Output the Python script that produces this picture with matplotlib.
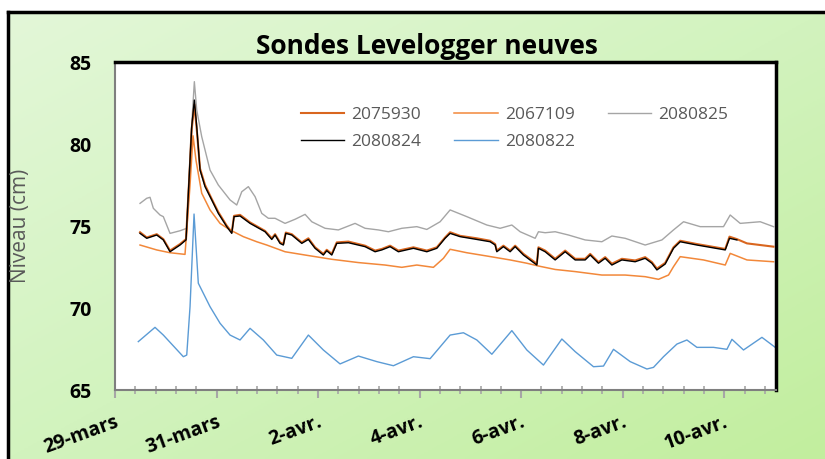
import numpy as np
import matplotlib.pyplot as plt
from matplotlib.colors import LinearSegmentedColormap

plt.rcParams['font.family'] = ['Open Sans', 'DejaVu Sans']

# days since 29-mars 00:00
black_days = [0.493, 0.625, 0.822, 0.952, 1.084, 1.281, 1.399, 1.478, 1.511, 1.563, 1.610, 1.675,
              1.773, 1.905, 2.035, 2.201, 2.300, 2.345, 2.463, 2.660, 2.956, 3.088, 3.153, 3.251,
              3.316, 3.364, 3.482, 3.679, 3.809, 3.941, 4.104, 4.171, 4.270, 4.368, 4.597, 4.926,
              5.123, 5.255, 5.419, 5.582, 5.878, 6.142, 6.339, 6.502, 6.601, 6.798, 7.127, 7.389,
              7.488, 7.521, 7.651, 7.783, 7.882, 8.045, 8.309, 8.341, 8.473, 8.670, 8.867, 9.064,
              9.261, 9.360, 9.523, 9.655, 9.787, 9.984, 10.246, 10.443, 10.575, 10.674, 10.837,
              11.001, 11.133, 11.462, 12.020, 12.104, 12.250]
s2080824 = [74.55, 74.25, 74.45, 74.15, 73.43, 73.84, 74.15, 79.02, 81.06, 82.68, 81.06, 78.41,
            77.40, 76.59, 75.77, 74.96, 74.55, 75.57, 75.61, 75.16, 74.65, 74.18, 74.45, 73.94,
            73.84, 74.55, 74.45, 73.94, 74.18, 73.64, 73.23, 73.49, 73.23, 73.94, 73.98, 73.74,
            73.43, 73.54, 73.74, 73.43, 73.64, 73.43, 73.64, 74.25, 74.55, 74.35, 74.18, 74.04,
            73.84, 73.43, 73.74, 73.43, 73.74, 73.23, 72.62, 73.64, 73.43, 72.93, 73.43, 72.93,
            72.93, 73.23, 72.73, 73.03, 72.62, 72.93, 72.82, 73.03, 72.73, 72.32, 72.68,
            73.64, 74.04, 73.84, 73.54, 74.25, 74.15]

dark_days = black_days + [12.448, 12.709, 12.971]
s2075930 = [74.62, 74.30, 74.50, 74.20, 73.50, 73.90, 74.20, 78.80, 80.90, 82.40, 80.90, 78.50,
            77.50, 76.65, 75.85, 75.02, 74.62, 75.62, 75.68, 75.22, 74.70, 74.25, 74.50, 74.00,
            73.90, 74.60, 74.50, 74.00, 74.25, 73.70, 73.30, 73.55, 73.30, 74.00, 74.05, 73.80,
            73.50, 73.60, 73.80, 73.50, 73.70, 73.50, 73.70, 74.30, 74.62, 74.40, 74.25, 74.10,
            73.90, 73.50, 73.80, 73.50, 73.80, 73.30, 72.70, 73.70, 73.50, 73.00, 73.50, 73.00,
            73.00, 73.30, 72.80, 73.10, 72.70, 73.00, 72.90, 73.10, 72.80, 72.40, 72.75,
            73.70, 74.10, 73.90, 73.60, 74.35, 74.20, 73.94, 73.84, 73.74]

low_days = [0.493, 0.822, 1.084, 1.379, 1.478, 1.537, 1.596, 1.708, 1.872, 2.069, 2.266, 2.528,
            2.792, 2.989, 3.350, 3.744, 4.270, 4.794, 5.320, 5.649, 5.945, 6.272, 6.469, 6.601,
            6.930, 7.324, 7.783, 8.112, 8.341, 8.670, 9.064, 9.590, 10.049, 10.443, 10.706,
            10.903, 11.001, 11.133, 11.592, 12.020, 12.118, 12.448, 12.971]
s2067109 = [73.84, 73.54, 73.37, 73.27, 77.50, 80.50, 79.00, 77.00, 75.98, 75.16, 74.76, 74.35,
            74.04, 73.84, 73.43, 73.23, 72.97, 72.77, 72.62, 72.48, 72.62, 72.48, 73.03, 73.58,
            73.37, 73.17, 72.93, 72.73, 72.56, 72.35, 72.22, 72.01, 72.01, 71.91, 71.75,
            72.01, 72.52, 73.13, 72.93, 72.62, 73.33, 72.93, 72.82]

gray_days = [0.493, 0.625, 0.690, 0.755, 0.887, 0.952, 1.084, 1.281, 1.413, 1.488, 1.563, 1.610,
             1.708, 1.872, 2.035, 2.266, 2.398, 2.497, 2.627, 2.759, 2.891, 3.021, 3.153, 3.350,
             3.547, 3.744, 3.876, 4.138, 4.400, 4.729, 4.926, 5.188, 5.385, 5.649, 5.945, 6.142,
             6.404, 6.601, 6.930, 7.324, 7.586, 7.817, 7.980, 8.276, 8.341, 8.473, 8.670, 8.933,
             9.261, 9.590, 9.787, 10.049, 10.443, 10.773, 11.001, 11.199, 11.527, 11.986, 12.118,
             12.315, 12.709, 12.971]
s2080825 = [76.38, 76.69, 76.75, 76.08, 75.67, 75.57, 74.55, 74.71, 74.86, 80.00, 83.80, 82.07,
            80.45, 78.41, 77.50, 76.59, 76.28, 77.09, 77.40, 76.79, 75.77, 75.47, 75.47, 75.16,
            75.41, 75.71, 75.26, 74.86, 74.76, 75.16, 74.86, 74.76, 74.65, 74.86, 74.96, 74.79,
            75.26, 75.98, 75.57, 75.06, 74.86, 75.06, 74.65, 74.25, 74.65, 74.59, 74.65, 74.45,
            74.15, 74.04, 74.39, 74.25, 73.84, 74.15, 74.76, 75.26, 74.96, 74.96, 75.67,
            75.16, 75.26, 74.96]

blue_days = [0.459, 0.788, 0.952, 1.346, 1.413, 1.478, 1.557, 1.641, 1.675, 1.872, 2.069, 2.266,
             2.463, 2.660, 2.922, 3.186, 3.482, 3.809, 4.104, 4.433, 4.794, 5.157, 5.484, 5.878,
             6.207, 6.601, 6.863, 7.127, 7.423, 7.817, 8.112, 8.439, 8.802, 9.064, 9.425, 9.622,
             9.819, 10.148, 10.477, 10.607, 10.804, 11.068, 11.265, 11.462, 11.789, 12.053,
             12.152, 12.380, 12.743, 13.005]
s2080822 = [67.95, 68.82, 68.35, 67.03, 67.13, 70.08, 75.73, 71.51, 71.30, 70.08, 69.07, 68.35,
            68.05, 68.76, 68.05, 67.13, 66.93, 68.35, 67.44, 66.59, 67.07, 66.73, 66.48, 67.03,
            66.91, 68.35, 68.49, 68.05, 67.18, 68.62, 67.44, 66.52, 68.11, 67.34, 66.42, 66.46,
            67.48, 66.73, 66.28, 66.38, 67.03, 67.80, 68.05, 67.60, 67.60, 67.48,
            68.09, 67.44, 68.21, 67.60]

tick_days = [0, 2, 4, 6, 8, 10, 12]
tick_labels = ['29-mars', '31-mars', '2-avr.', '4-avr.', '6-avr.', '8-avr.', '10-avr.']

fig = plt.figure(figsize=(8.25, 4.59), dpi=100)

# green gradient background with black border on left/top
bg = fig.add_axes([8 / 825, 0, 1 - 8 / 825, 1 - 12 / 459], zorder=-10)
gx, gy = np.meshgrid(np.linspace(0, 1, 200), np.linspace(0, 1, 200))
grad = (gx + gy) / 2
cmap = LinearSegmentedColormap.from_list('g', ['#E3F7D8', '#D2F3BE', '#C2EE9E'])
bg.imshow(grad, cmap=cmap, aspect='auto', extent=[0, 1, 0, 1], origin='upper')
bg.set_xticks([])
bg.set_yticks([])
for side in ['right', 'bottom']:
    bg.spines[side].set_visible(False)
for side in ['left', 'top']:
    bg.spines[side].set_linewidth(2.5)
    bg.spines[side].set_color('black')

ax = fig.add_axes([115 / 825, 69 / 459, 661 / 825, 328 / 459])
ax.set_facecolor('white')

l1, = ax.plot(dark_days, s2075930, color='#D9661F', lw=1.5, zorder=3, label='2075930')
l2, = ax.plot(low_days, s2067109, color='#F2883A', lw=1.1, zorder=2, label='2067109')
l3, = ax.plot(gray_days, s2080825, color='#A5A5A5', lw=1.0, zorder=2, label='2080825')
l4, = ax.plot(black_days, s2080824, color='black', lw=1.0, zorder=4, label='2080824')
l5, = ax.plot(blue_days, s2080822, color='#5B9BD5', lw=1.0, zorder=2, label='2080822')

ax.set_xlim(0, 13.02)
ax.set_ylim(65, 85)
ax.set_yticks([65, 70, 75, 80, 85])
ax.set_xticks(tick_days)
ax.set_xticks(np.arange(0, 13.02, 0.4), minor=True)
ax.set_xticklabels(tick_labels, rotation=20, ha='right', rotation_mode='anchor',
                   fontsize=14, fontweight='bold')
ax.tick_params(axis='x', which='major', direction='out', length=6, width=1.5,
               color='#A6A6A6', pad=10)
ax.tick_params(axis='x', which='minor', direction='inout', length=6, width=1.2,
               color='#A6A6A6')
ax.tick_params(axis='y', length=0, pad=17, labelsize=14)
for t in ax.get_yticklabels():
    t.set_fontweight('bold')

for side in ['top', 'right']:
    ax.spines[side].set_color('black')
    ax.spines[side].set_linewidth(2.5)
for side in ['left', 'bottom']:
    ax.spines[side].set_color('#7F7F7F')
    ax.spines[side].set_linewidth(1.5)

ax.set_ylabel('Niveau (cm)', fontsize=15, color='#595959')
ax.yaxis.set_label_coords(-0.127, 0.5)

fig.text(427 / 825, 1 - 46 / 459, 'Sondes Levelogger neuves', ha='center', va='center',
         fontsize=19, fontweight='bold')

leg = ax.legend([l1, l4, l2, l5, l3], ['2075930', '2080824', '2067109', '2080822', '2080825'],
                ncol=3, frameon=False, fontsize=12.5, labelcolor='#595959',
                loc='upper left', bbox_to_anchor=(301 / 825, 1 - 107 / 459),
                bbox_transform=fig.transFigure, borderpad=0, borderaxespad=0,
                handlelength=2.5, handletextpad=0.4, columnspacing=1.9, labelspacing=0.6)

fig.savefig('out.png', dpi=100)
